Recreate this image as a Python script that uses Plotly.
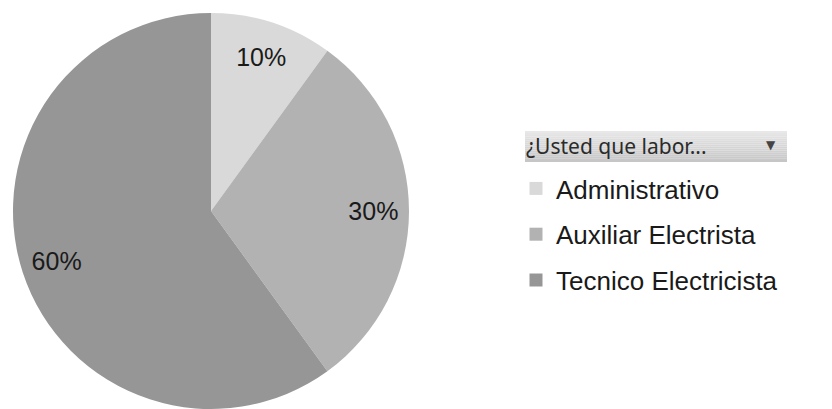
import plotly.graph_objects as go

labels = ["Administrativo", "Auxiliar Electrista", "Tecnico Electricista"]
values = [1, 3, 6]
colors = ["#d9d9d9", "#b2b2b2", "#969696"]
header_text = "¿Usted que labor..."

W, H = 832, 409
OFF = 8  # page body margin


def px(x):
    return (x - OFF) / W


def py(y):
    return (H - (y - OFF)) / H


fig = go.Figure()

pie_domain = dict(x=[px(11), px(411)], y=[py(409), py(13)])

# filled pie
fig.add_trace(go.Pie(
    labels=labels, values=values, sort=False, direction="clockwise", rotation=0,
    marker=dict(colors=colors, line=dict(width=0)),
    textinfo="none", showlegend=False, hoverinfo="label+percent",
    domain=pie_domain,
))

# transparent ring on top only to push the % labels outwards like the original
fig.add_trace(go.Pie(
    labels=labels, values=values, sort=False, direction="clockwise", rotation=0,
    hole=0.64,
    marker=dict(colors=["rgba(0,0,0,0)"] * len(values), line=dict(width=0)),
    textinfo="percent", textposition="inside", insidetextorientation="horizontal",
    textfont=dict(family="Liberation Sans, Arial", size=25, color="#1a1a1a"),
    showlegend=False, hoverinfo="skip",
    domain=pie_domain,
))

for i, (lab, col) in enumerate(zip(labels, colors)):
    fig.add_trace(go.Scatter(
        x=[None], y=[None], mode="markers", name=lab, legendgroup=f"g{i}",
        marker=dict(symbol="square", size=13, color=col),
    ))

# header bar over the legend (vertical gradient made of thin bands)
y_top, y_bot = 131, 162
n = 16
for k in range(n):
    t = k / (n - 1)
    c = int(232 - t * (232 - 198))
    fig.add_shape(type="rect", xref="paper", yref="paper",
                  x0=px(525), x1=px(787),
                  y0=py(y_top + (k + 1) * (y_bot - y_top) / n),
                  y1=py(y_top + k * (y_bot - y_top) / n),
                  fillcolor=f"rgb({c},{c},{c})", line=dict(width=0), layer="below")

fig.add_annotation(text=header_text, xref="paper", yref="paper", x=px(524), y=py(146),
                   xanchor="left", yanchor="middle", showarrow=False,
                   font=dict(family="Noto Sans", size=21, color="#2b2b2b"))
fig.add_annotation(text="▼", xref="paper", yref="paper", x=px(771), y=py(145),
                   xanchor="center", yanchor="middle", showarrow=False,
                   font=dict(family="DejaVu Sans", size=12, color="#444444"))

fig.update_layout(
    width=W, height=H, margin=dict(l=0, r=0, t=0, b=0),
    paper_bgcolor="white", plot_bgcolor="white",
    xaxis=dict(visible=False), yaxis=dict(visible=False),
    showlegend=True,
    legend=dict(x=px(516), y=py(165), xanchor="left", yanchor="top",
                font=dict(family="Liberation Sans, Arial", size=26, color="#1a1a1a"),
                tracegroupgap=9, bgcolor="rgba(0,0,0,0)"),
)

fig.write_html("out.html")
